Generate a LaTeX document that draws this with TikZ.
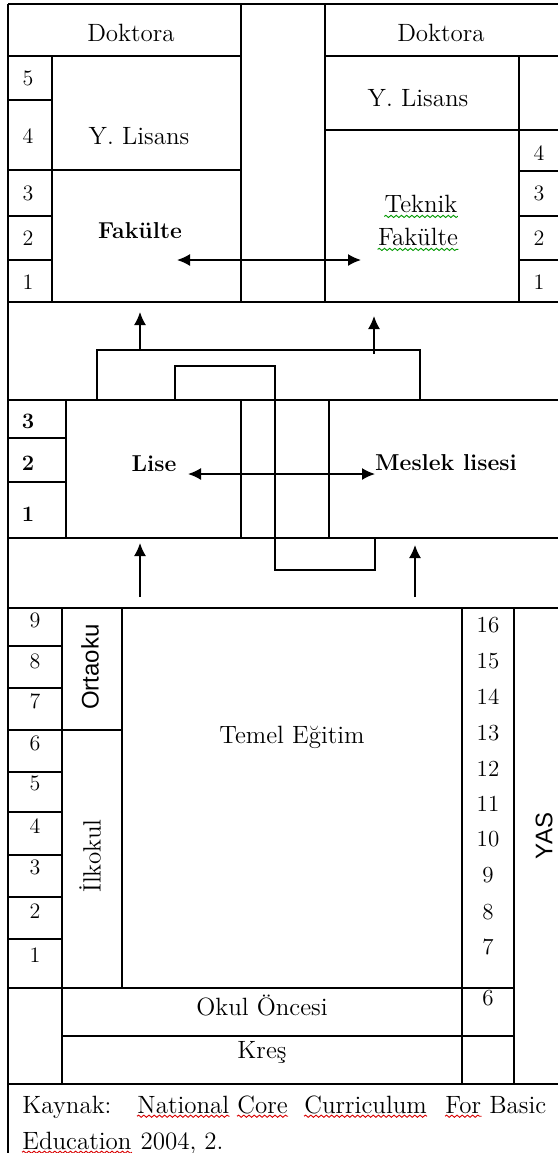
\documentclass[tikz,border=0pt]{standalone}
\usepackage{fontspec}
\newfontfamily\sansf{Liberation Sans}
\usetikzlibrary{arrows.meta,decorations.pathmorphing}
\begin{document}
\begin{tikzpicture}[x=0.5pt,y=-0.5pt,
  ln/.style={line width=0.8pt},
  txt/.style={inner sep=0pt,font=\fontsize{12.5}{15}\selectfont},
  num/.style={inner sep=0pt,font=\fontsize{11}{13}\selectfont},
  agenum/.style={inner sep=0pt,font=\fontsize{11.5}{13}\selectfont},
  bnum/.style={inner sep=0pt,font=\fontsize{11}{13}\selectfont\bfseries},
  btxt/.style={inner sep=0pt,font=\fontsize{11.5}{14}\selectfont\bfseries},
  stxt/.style={inner sep=0pt,font=\fontsize{12}{14}\selectfont\sansf},
  tip/.tip={Latex[length=6.5pt,width=6pt]},
  arr/.style={line width=0.8pt,-tip},
  dbl/.style={line width=0.8pt,tip-tip},
  wavy/.style={line width=0.45pt,decorate,decoration={snake,amplitude=0.55pt,segment length=2.6pt}},
  spellr/.style={wavy,red!85!black},
  spellg/.style={wavy,green!60!black}]
\clip (0,0) rectangle (558,1153);
\fill[white] (0,0) rectangle (558,1153);

% ---------- top section (university) ----------
\draw[ln] (8,4) -- (558,4);
\draw[ln] (8,4) -- (8,1153);
\draw[ln] (8,56) -- (241,56);
\draw[ln] (241,4) -- (241,302);
\draw[ln] (325,4) -- (325,302);
\draw[ln] (52,56) -- (52,302);
\draw[ln] (8,100) -- (52,100);
\draw[ln] (8,170) -- (241,170);
\draw[ln] (8,216) -- (52,216);
\draw[ln] (8,260) -- (52,260);
\draw[ln] (8,302) -- (558,302);
\draw[ln] (325,56) -- (558,56);
\draw[ln] (519,56) -- (519,302);
\draw[ln] (325,130) -- (558,130);
\draw[ln] (519,171) -- (558,171);
\draw[ln] (519,216) -- (558,216);
\draw[ln] (519,260) -- (558,260);

\node[txt] (dokL) at (131,33) {Doktora};
\node[txt] (dokR) at (441,33) {Doktora};
\node[num] (l5) at (28,78) {5};
\node[num] (l4) at (28,136) {4};
\node[num] (l3) at (28,193) {3};
\node[num] (l2) at (28,238) {2};
\node[num] (l1) at (28,282) {1};
\node[txt] (ylL) at (139,136) {Y. Lisans};
\node[btxt] (fakL) at (140,231) {Fakülte};
\node[txt] (ylR) at (418,98) {Y. Lisans};
\node[txt] (tek) at (421,204) {Teknik};
\node[txt] (tekf) at (418,237) {Fakülte};
\node[num] (r4) at (539,153) {4};
\node[num] (r3) at (539,193) {3};
\node[num] (r2) at (539,238) {2};
\node[num] (r1) at (539,282) {1};
\draw[spellg] ([yshift=-1.6pt]tek.south west) -- ([yshift=-1.6pt]tek.south east);
\draw[spellg] ([yshift=-1.6pt]tekf.south west) -- ([yshift=-1.6pt]tekf.south east);

\coordinate (ua) at (177,260);
\coordinate (ub) at (361,260);
\draw[dbl] (ua) -- (ub);

% ---------- gap 1 ----------
\coordinate (a1s) at (140,350);
\coordinate (a1e) at (140,312);
\coordinate (a2s) at (374,354);
\coordinate (a2e) at (374,316);
\draw[arr] (a1s) -- (a1e);
\draw[arr] (a2s) -- (a2e);
\draw[ln] (97,400) -- (97,350) -- (420,350) -- (420,400);
\draw[ln] (175,400) -- (175,366) -- (275,366) -- (275,570) -- (375,570) -- (375,537);

% ---------- lise section ----------
\draw[ln] (8,400) -- (558,400);
\draw[ln] (8,538) -- (558,538);
\draw[ln] (66,400) -- (66,538);
\draw[ln] (8,438) -- (66,438);
\draw[ln] (8,482) -- (66,482);
\draw[ln] (241,400) -- (241,538);
\draw[ln] (329,400) -- (329,538);
\node[bnum] (s3) at (28,421) {3};
\node[bnum] (s2) at (28,463) {2};
\node[bnum] (s1) at (28,514) {1};
\node[btxt] (lise) at (154,464) {Lise};
\node[btxt] (meslek) at (446,463) {Meslek lisesi};
\coordinate (ma) at (188,474);
\coordinate (mb) at (375,474);
\draw[dbl] (ma) -- (mb);

% ---------- gap 2 ----------
\coordinate (b1s) at (140,597);
\coordinate (b1e) at (140,543);
\coordinate (b2s) at (415,597);
\coordinate (b2e) at (415,545);
\draw[arr] (b1s) -- (b1e);
\draw[arr] (b2s) -- (b2e);

% ---------- basic education ----------
\draw[ln] (8,608) -- (558,608);
\draw[ln] (62,608) -- (62,1084);
\foreach \yy in {646,688,730,772,812,855,897,939}
  \draw[ln] (8,\yy) -- (62,\yy);
\draw[ln] (62,730) -- (122,730);
\draw[ln] (122,608) -- (122,988);
\draw[ln] (8,988) -- (514,988);
\draw[ln] (62,1036) -- (514,1036);
\draw[ln] (462,608) -- (462,1084);
\draw[ln] (514,608) -- (514,1084);
\draw[ln] (8,1084) -- (558,1084);

\node[num] (g9) at (35,620) {9};
\node[num] (g8) at (35,661) {8};
\node[num] (g7) at (35,701) {7};
\node[num] (g6) at (35,743) {6};
\node[num] (g5) at (35,783) {5};
\node[num] (g4) at (35,826) {4};
\node[num] (g3) at (35,867) {3};
\node[num] (g2) at (35,911) {2};
\node[num] (g1) at (35,955) {1};

\node[stxt,rotate=90] (orta) at (90,667) {Ortaoku};
\node[txt,rotate=90] (ilk) at (90,856) {İlkokul};
\node[txt] (temel) at (292,737) {Temel Eğitim};

\node[agenum] (y16) at (488,625) {16};
\node[agenum] (y15) at (488,661) {15};
\node[agenum] (y14) at (488,697) {14};
\node[agenum] (y13) at (488,733) {13};
\node[agenum] (y12) at (488,769) {12};
\node[agenum] (y11) at (488,804) {11};
\node[agenum] (y10) at (488,839) {10};
\node[agenum] (y9) at (488,875) {9};
\node[agenum] (y8) at (488,912) {8};
\node[agenum] (y7) at (488,947) {7};
\node[agenum] (y6) at (488,998) {6};
\node[stxt,rotate=90] (yas) at (544,836) {YAS};

\node[txt] (okul) at (262,1005) {Okul Öncesi};
\node[txt] (kres) at (262,1052) {Kreş};

% ---------- footer ----------
\node[txt,anchor=base west] (w1) at (22,1113) {Kaynak:};
\node[txt,anchor=base west] (w2) at (137,1113) {National};
\node[txt,anchor=base west] (w3) at (237,1113) {Core};
\node[txt,anchor=base west] (w4) at (304,1113) {Curriculum};
\node[txt,anchor=base west] (w5) at (445,1113) {For};
\node[txt,anchor=base west] (w6) at (489,1113) {Basic};
\node[txt,anchor=base west] (w7) at (22,1149) {Education};
\node[txt,anchor=base west] (w8) at (w7.base east) {\ 2004, 2.};
\foreach \w in {w2,w3,w4,w5,w7}
  \draw[spellr] ([yshift=-1.6pt]\w.base west) -- ([yshift=-1.6pt]\w.base east);
\end{tikzpicture}
\end{document}
